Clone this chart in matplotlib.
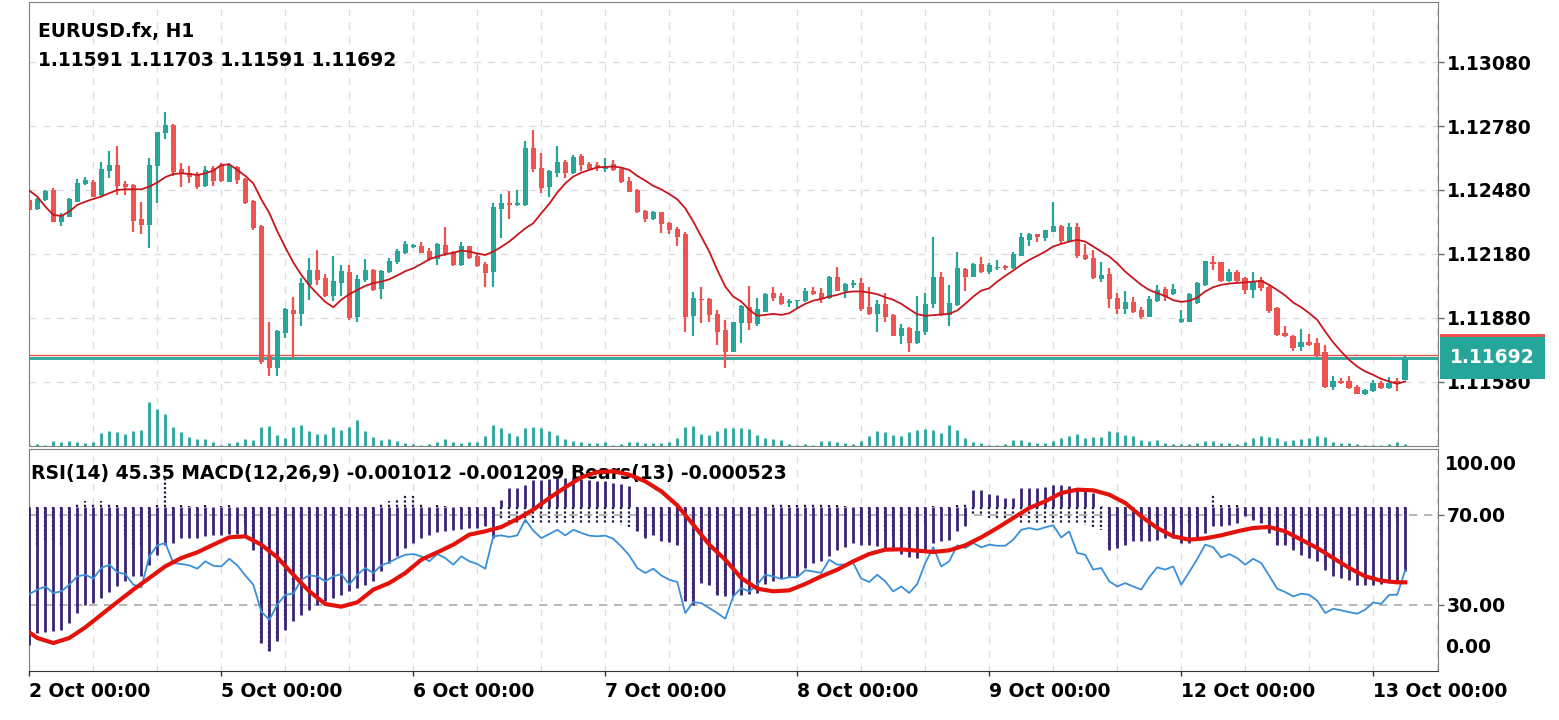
import numpy as np
import matplotlib.pyplot as plt
from matplotlib.patches import Rectangle

plt.rcParams['font.family'] = 'DejaVu Sans'
plt.rcParams['font.weight'] = 'bold'

# EURUSD.fx H1, 2 Oct 00:00 .. 13 Oct 04:00 (173 bars)
opens = [
    1.12433, 1.12390, 1.12433, 1.12480, 1.12332, 1.12355, 1.12425, 1.12508, 1.12519, 1.12457,
    1.12571, 1.12597, 1.12507, 1.12504, 1.12346, 1.12318, 1.12594, 1.12746, 1.12785, 1.12577,
    1.12558, 1.12555, 1.12499, 1.12582, 1.12597, 1.12519, 1.12590, 1.12532, 1.12429, 1.12311,
    1.11702, 1.11647, 1.11811, 1.11915, 1.11897, 1.12035, 1.12105, 1.12069, 1.11985, 1.12043,
    1.12097, 1.11886, 1.12058, 1.12105, 1.12015, 1.12094, 1.12140, 1.12186, 1.12213, 1.12219,
    1.12194, 1.12157, 1.12222, 1.12186, 1.12129, 1.12215, 1.12168, 1.12133, 1.12093, 1.12391,
    1.12418, 1.12408, 1.12410, 1.12675, 1.12582, 1.12493, 1.12561, 1.12611, 1.12558, 1.12640,
    1.12600, 1.12596, 1.12580, 1.12602, 1.12579, 1.12522, 1.12480, 1.12382, 1.12344, 1.12375,
    1.12324, 1.12296, 1.12272, 1.11890, 1.11969, 1.11968, 1.11899, 1.11821, 1.11722, 1.11855,
    1.11933, 1.11852, 1.11910, 1.11996, 1.11983, 1.11952, 1.11957, 1.11957, 1.12008, 1.11999,
    1.11972, 1.12071, 1.12007, 1.12035, 1.12046, 1.11933, 1.11897, 1.11946, 1.11894, 1.11797,
    1.11832, 1.11761, 1.11813, 1.11944, 1.12074, 1.11894, 1.11941, 1.12110, 1.12074, 1.12132,
    1.12093, 1.12113, 1.12124, 1.12113, 1.12172, 1.12246, 1.12272, 1.12254, 1.12285, 1.12311,
    1.12243, 1.12308, 1.12175, 1.12160, 1.12063, 1.12086, 1.11972, 1.11922, 1.11954, 1.11915,
    1.11886, 1.11957, 1.12016, 1.11991, 1.11860, 1.11863, 1.11949, 1.12032, 1.12144, 1.12140,
    1.12055, 1.12093, 1.12066, 1.12011, 1.12058, 1.12027, 1.11925, 1.11808, 1.11796, 1.11743,
    1.11765, 1.11761, 1.11719, 1.11555, 1.11585, 1.11582, 1.11558, 1.11524, 1.11535, 1.11577,
    1.11550, 1.11582, 1.11591]
highs = [
    1.12449, 1.12441, 1.12480, 1.12488, 1.12371, 1.12441, 1.12530, 1.12543, 1.12527, 1.12610,
    1.12663, 1.12686, 1.12522, 1.12508, 1.12422, 1.12629, 1.12754, 1.12847, 1.12788, 1.12608,
    1.12593, 1.12566, 1.12594, 1.12593, 1.12608, 1.12605, 1.12594, 1.12535, 1.12433, 1.12316,
    1.11860, 1.11824, 1.11925, 1.11977, 1.12069, 1.12163, 1.12199, 1.12085, 1.12168, 1.12129,
    1.12129, 1.12082, 1.12157, 1.12108, 1.12105, 1.12160, 1.12202, 1.12241, 1.12225, 1.12235,
    1.12207, 1.12229, 1.12308, 1.12196, 1.12238, 1.12219, 1.12179, 1.12144, 1.12418, 1.12461,
    1.12477, 1.12480, 1.12710, 1.12761, 1.12652, 1.12574, 1.12686, 1.12621, 1.12644, 1.12649,
    1.12613, 1.12611, 1.12629, 1.12621, 1.12582, 1.12540, 1.12483, 1.12386, 1.12382, 1.12379,
    1.12332, 1.12308, 1.12282, 1.12000, 1.12027, 1.11972, 1.11915, 1.11871, 1.11863, 1.11941,
    1.12030, 1.11972, 1.11996, 1.12024, 1.11999, 1.11968, 1.11966, 1.12019, 1.12024, 1.12019,
    1.12077, 1.12118, 1.12046, 1.12058, 1.12066, 1.12027, 1.11965, 1.11996, 1.11897, 1.11852,
    1.11835, 1.11983, 1.11996, 1.12261, 1.12093, 1.12032, 1.12188, 1.12113, 1.12136, 1.12165,
    1.12136, 1.12152, 1.12127, 1.12191, 1.12277, 1.12280, 1.12274, 1.12293, 1.12425, 1.12315,
    1.12324, 1.12324, 1.12227, 1.12199, 1.12141, 1.12113, 1.11999, 1.12004, 1.11980, 1.11930,
    1.11983, 1.12035, 1.12027, 1.12040, 1.11918, 1.11996, 1.12050, 1.12149, 1.12168, 1.12144,
    1.12110, 1.12105, 1.12074, 1.12097, 1.12071, 1.12032, 1.11933, 1.11843, 1.11799, 1.11827,
    1.11804, 1.11785, 1.11754, 1.11608, 1.11597, 1.11608, 1.11566, 1.11546, 1.11590, 1.11582,
    1.11602, 1.11600, 1.11703]
lows = [
    1.12371, 1.12386, 1.12430, 1.12329, 1.12311, 1.12352, 1.12422, 1.12505, 1.12446, 1.12452,
    1.12535, 1.12457, 1.12457, 1.12282, 1.12272, 1.12207, 1.12421, 1.12718, 1.12546, 1.12496,
    1.12511, 1.12483, 1.12493, 1.12499, 1.12519, 1.12516, 1.12507, 1.12413, 1.12290, 1.11665,
    1.11608, 1.11608, 1.11788, 1.11694, 1.11840, 1.11965, 1.12035, 1.11980, 1.11957, 1.11985,
    1.11871, 1.11863, 1.12050, 1.12004, 1.11969, 1.12090, 1.12133, 1.12180, 1.12207, 1.12183,
    1.12149, 1.12129, 1.12172, 1.12124, 1.12124, 1.12157, 1.12121, 1.12027, 1.12027, 1.12257,
    1.12343, 1.12405, 1.12405, 1.12566, 1.12468, 1.12446, 1.12543, 1.12538, 1.12555, 1.12569,
    1.12574, 1.12569, 1.12563, 1.12571, 1.12515, 1.12469, 1.12374, 1.12332, 1.12340, 1.12280,
    1.12274, 1.12215, 1.11816, 1.11793, 1.11855, 1.11863, 1.11754, 1.11644, 1.11719, 1.11761,
    1.11821, 1.11840, 1.11907, 1.11960, 1.11941, 1.11933, 1.11925, 1.11954, 1.11988, 1.11949,
    1.11969, 1.12004, 1.11975, 1.12019, 1.11913, 1.11894, 1.11816, 1.11860, 1.11797, 1.11757,
    1.11719, 1.11758, 1.11800, 1.11925, 1.11890, 1.11844, 1.11938, 1.12008, 1.12071, 1.12090,
    1.12086, 1.12105, 1.12105, 1.12110, 1.12168, 1.12219, 1.12238, 1.12243, 1.12282, 1.12225,
    1.12238, 1.12160, 1.12152, 1.12063, 1.12050, 1.11925, 1.11899, 1.11899, 1.11902, 1.11874,
    1.11883, 1.11954, 1.11957, 1.11988, 1.11858, 1.11860, 1.11946, 1.12030, 1.12105, 1.12050,
    1.12050, 1.12050, 1.11991, 1.11975, 1.12004, 1.11902, 1.11797, 1.11790, 1.11727, 1.11727,
    1.11746, 1.11696, 1.11550, 1.11540, 1.11571, 1.11547, 1.11521, 1.11518, 1.11532, 1.11547,
    1.11547, 1.11535, 1.11591]
closes = [
    1.12386, 1.12436, 1.12477, 1.12332, 1.12363, 1.12436, 1.12515, 1.12527, 1.12449, 1.12579,
    1.12597, 1.12499, 1.12496, 1.12336, 1.12318, 1.12597, 1.12750, 1.12785, 1.12566, 1.12555,
    1.12540, 1.12496, 1.12574, 1.12522, 1.12522, 1.12597, 1.12527, 1.12418, 1.12300, 1.11675,
    1.11647, 1.11819, 1.11921, 1.11897, 1.12046, 1.12105, 1.12058, 1.11985, 1.12054, 1.12100,
    1.11879, 1.12063, 1.12105, 1.12011, 1.12100, 1.12149, 1.12196, 1.12225, 1.12221, 1.12186,
    1.12155, 1.12225, 1.12179, 1.12129, 1.12219, 1.12160, 1.12124, 1.12090, 1.12402, 1.12418,
    1.12410, 1.12418, 1.12675, 1.12577, 1.12488, 1.12571, 1.12611, 1.12558, 1.12636, 1.12597,
    1.12579, 1.12582, 1.12593, 1.12574, 1.12518, 1.12472, 1.12375, 1.12344, 1.12375, 1.12321,
    1.12290, 1.12261, 1.11886, 1.11972, 1.11965, 1.11894, 1.11813, 1.11722, 1.11860, 1.11936,
    1.11855, 1.11921, 1.11991, 1.11975, 1.11946, 1.11960, 1.11963, 1.12008, 1.11991, 1.11969,
    1.12074, 1.12007, 1.12040, 1.12046, 1.11921, 1.11897, 1.11944, 1.11886, 1.11797, 1.11832,
    1.11761, 1.11819, 1.11946, 1.12074, 1.11897, 1.11949, 1.12113, 1.12074, 1.12132, 1.12093,
    1.12129, 1.12121, 1.12113, 1.12180, 1.12258, 1.12274, 1.12258, 1.12290, 1.12311, 1.12243,
    1.12308, 1.12168, 1.12155, 1.12066, 1.12082, 1.11968, 1.11922, 1.11954, 1.11907, 1.11883,
    1.11968, 1.12011, 1.11980, 1.12015, 1.11875, 1.11991, 1.12043, 1.12147, 1.12132, 1.12055,
    1.12093, 1.12055, 1.12011, 1.12050, 1.12019, 1.11913, 1.11800, 1.11793, 1.11738, 1.11765,
    1.11754, 1.11707, 1.11554, 1.11586, 1.11574, 1.11550, 1.11524, 1.11540, 1.11574, 1.11550,
    1.11577, 1.11571, 1.11692]
ma_line = [
    1.12477, 1.12449, 1.12402, 1.12363, 1.12358, 1.12379, 1.12410, 1.12425, 1.12438, 1.12449,
    1.12465, 1.12480, 1.12483, 1.12483, 1.12483, 1.12496, 1.12515, 1.12540, 1.12555, 1.12558,
    1.12555, 1.12550, 1.12558, 1.12571, 1.12597, 1.12600, 1.12574, 1.12546, 1.12511, 1.12436,
    1.12372, 1.12286, 1.12211, 1.12140, 1.12082, 1.12033, 1.11993, 1.11955, 1.11930, 1.11965,
    1.11991, 1.12011, 1.12030, 1.12043, 1.12050, 1.12061, 1.12079, 1.12099, 1.12113, 1.12133,
    1.12155, 1.12168, 1.12179, 1.12185, 1.12196, 1.12191, 1.12182, 1.12175, 1.12191, 1.12213,
    1.12238, 1.12269, 1.12300, 1.12324, 1.12371, 1.12415, 1.12468, 1.12511, 1.12543, 1.12561,
    1.12574, 1.12586, 1.12588, 1.12590, 1.12585, 1.12574, 1.12546, 1.12524, 1.12499, 1.12483,
    1.12461, 1.12436, 1.12394, 1.12332, 1.12261, 1.12191, 1.12105, 1.12027, 1.11980, 1.11957,
    1.11918, 1.11890, 1.11894, 1.11899, 1.11894, 1.11902, 1.11925, 1.11946, 1.11961, 1.11969,
    1.11980, 1.11988, 1.12000, 1.12004, 1.12004, 1.11999, 1.11991, 1.11977, 1.11965, 1.11946,
    1.11921, 1.11897, 1.11890, 1.11893, 1.11896, 1.11899, 1.11915, 1.11946, 1.11980, 1.12008,
    1.12019, 1.12050, 1.12077, 1.12102, 1.12129, 1.12152, 1.12171, 1.12191, 1.12215, 1.12227,
    1.12238, 1.12246, 1.12238, 1.12215, 1.12191, 1.12168, 1.12136, 1.12097, 1.12066, 1.12035,
    1.12011, 1.11996, 1.11983, 1.11963, 1.11955, 1.11960, 1.11975, 1.12004, 1.12024, 1.12035,
    1.12041, 1.12044, 1.12047, 1.12050, 1.12054, 1.12035, 1.12011, 1.11985, 1.11952, 1.11930,
    1.11902, 1.11871, 1.11816, 1.11765, 1.11722, 1.11683, 1.11652, 1.11629, 1.11613, 1.11594,
    1.11582, 1.11571, 1.11582]
volumes = [
    4, 6, 3, 16, 13, 16, 13, 10, 13, 40, 45, 43, 36, 45, 48, 133, 111, 96, 58, 43,
    26, 21, 21, 13, 3, 10, 13, 21, 18, 56, 60, 33, 23, 56, 63, 45, 36, 36, 56, 48,
    58, 78, 45, 26, 18, 21, 16, 10, 6, 3, 6, 13, 21, 13, 10, 13, 13, 30, 63, 53,
    38, 30, 53, 56, 53, 45, 33, 21, 16, 11, 10, 10, 13, 3, 6, 13, 13, 10, 8, 10,
    13, 23, 56, 60, 36, 33, 45, 53, 53, 53, 50, 33, 25, 21, 18, 6, 3, 5, 3, 16,
    15, 13, 8, 6, 16, 30, 45, 43, 33, 30, 43, 48, 51, 48, 40, 63, 48, 25, 13, 10,
    3, 3, 6, 18, 18, 13, 10, 8, 16, 25, 30, 36, 25, 28, 28, 45, 41, 33, 30, 18,
    16, 18, 10, 6, 5, 5, 8, 15, 15, 10, 8, 6, 13, 23, 30, 26, 23, 16, 18, 20,
    23, 30, 26, 13, 8, 8, 5, 3, 3, 3, 6, 13, 6]
rsi = [
    34.7, 36.7, 38.1, 35.2, 35.9, 38.9, 42.6, 43.3, 41.6, 46.3,
    47.8, 44.4, 43.6, 38.9, 37.7, 51.5, 56.4, 57.4, 48.5, 48.1,
    47.5, 46.0, 49.3, 47.3, 47.0, 50.4, 47.5, 43.0, 38.9, 27.0,
    23.3, 30.0, 34.4, 34.9, 41.1, 43.0, 42.6, 40.4, 42.6, 43.6,
    38.9, 43.3, 46.3, 44.1, 47.5, 48.8, 50.7, 52.2, 52.5, 51.5,
    49.3, 52.5, 50.7, 47.8, 51.5, 49.3, 48.1, 46.0, 60.4, 60.8,
    60.1, 60.8, 67.8, 62.9, 59.6, 61.4, 63.3, 60.8, 63.3, 61.9,
    60.7, 60.4, 60.7, 59.3, 55.9, 51.9, 46.3, 44.1, 46.0, 43.0,
    41.1, 40.1, 26.3, 31.2, 30.7, 28.5, 26.3, 23.8, 33.7, 37.4,
    35.9, 38.9, 43.3, 42.6, 41.4, 42.2, 42.2, 45.3, 44.8, 44.1,
    50.0, 47.8, 47.8, 48.5, 41.6, 40.1, 43.3, 40.4, 35.9, 38.1,
    35.2, 39.2, 48.5, 55.6, 47.0, 49.3, 56.4, 55.2, 57.4, 55.5,
    56.7, 56.2, 56.2, 58.9, 63.3, 64.1, 63.3, 64.4, 65.3, 59.9,
    62.6, 53.0, 52.2, 45.6, 46.3, 40.4, 38.1, 39.6, 38.1, 36.7,
    42.2, 46.6, 45.6, 47.0, 38.9, 44.5, 50.3, 56.7, 55.5, 51.0,
    52.5, 50.7, 47.8, 50.4, 48.5, 42.9, 37.1, 35.6, 33.7, 34.9,
    34.4, 31.8, 26.3, 28.2, 27.5, 26.7, 26.0, 27.8, 31.0, 30.4,
    34.4, 34.4, 45.35]
# MACD main (histogram), millionths
macd_hist = np.array([
    -2060, -1885, -1875, -1860, -1835, -1735, -1585, -1460, -1435, -1360,
    -1270, -1185, -1110, -1035, -1035, -860, -710, -560, -535, -460,
    -460, -460, -435, -420, -420, -400, -400, -410, -635, -2035,
    -2160, -2010, -1835, -1710, -1610, -1535, -1460, -1410, -1360, -1310,
    -1260, -1210, -1160, -1110, -950, -835, -735, -610, -535, -460,
    -420, -370, -350, -335, -320, -310, -310, -285, -460, 115,
    290, 290, 340, 415, 415, 430, 440, 440, 440, 430,
    415, 390, 390, 365, 350, 315, -360, -460, -420, -500,
    -520, -570, -1410, -1460, -1135, -1160, -1310, -1335, -1335, -1310,
    -1300, -1285, -1150, -1110, -1060, -1050, -1035, -910, -835, -800,
    -735, -635, -600, -535, -560, -560, -585, -610, -635, -700,
    -750, -760, -660, -535, -510, -485, -360, -285, 265, 265,
    200, 190, 140, 140, 290, 290, 290, 300, 330, 330,
    315, 265, 240, 215, 15, -635, -610, -560, -510, -500,
    -510, -485, -460, -460, -535, -535, -485, -385, -285, -285,
    -260, -235, -135, -185, -235, -385, -560, -560, -635, -710,
    -760, -810, -935, -1035, -1060, -1085, -1160, -1170, -1160, -1150,
    -1135, -1135, -960]) * 1e-6
# MACD signal, read every second bar
signal_bars = [0, 1] + list(range(3, 172, 2)) + [172]
macd_signal = np.array([
    -1875, -1960, -2035, -1960, -1800, -1610, -1420, -1235, -1060, -885,
    -760, -675, -560, -450, -435, -560, -750, -1010, -1260, -1450,
    -1490, -1425, -1235, -1135, -985, -785, -675, -560, -410, -360,
    -295, -175, -35, 140, 300, 450, 530, 540, 490, 390,
    240, 30, -260, -560, -785, -1060, -1220, -1260, -1245, -1150,
    -1035, -935, -810, -700, -635, -630, -650, -670, -645, -570,
    -450, -310, -160, -10, 90, 215, 265, 255, 190, 65,
    -135, -310, -435, -485, -465, -420, -360, -310, -295, -360,
    -485, -610, -760, -910, -1035, -1100, -1125, -1125]) * 1e-6
# Bears Power(13), millionths
bears = np.array([
    -2440, -2240, -2040, -2040, -2240, -1640, 260, 360, 200, 360,
    260, 160, -1640, -2440, -2240, -1240, 120, 1860, -440, 120,
    60, -40, 120, 40, 80, 120, 0, -1040, -2040, -8140,
    -8640, -8040, -6840, -5240, -4440, -3440, -3040, -3040, -2440, -2640,
    -2440, -2040, -1640, -1440, 260, 400, 560, 760, 760, 260,
    0, 120, 60, 0, -40, -440, -540, -740, -1040, -740,
    -840, -940, -940, -940, -940, -940, -940, -940, -940, -940,
    -940, -940, -940, -940, -1040, -1240, -1440, -1840, -1680, -2000,
    -2080, -2280, -5640, -5840, -4540, -4640, -5240, -5340, -5340, -3440,
    -3040, -2440, -440, 260, 200, 120, 160, 200, 260, 200,
    160, 120, 60, 40, -1240, -1640, -1440, -1440, -1840, -2040,
    -2240, -1840, -1040, 60, -80, -40, 160, 260, -440, -540,
    -640, -640, -740, -740, -940, -940, -940, -940, -940, -940,
    -940, -940, -1040, -1240, -1340, -2440, -2240, -2040, -1840, -1640,
    -1440, -1240, -1140, -1040, -1040, -940, -840, -240, 760, 160,
    120, 120, -540, -740, -940, -1440, -2240, -2240, -2440, -2440,
    -2440, -2640, -3240, -3240, -3040, -2840, -2640, -2440, -2040, -1640,
    -1240, -840, -520]) * 1e-6

date_bars = [0, 24, 48, 72, 96, 120, 144, 168]
date_labels = ['2 Oct 00:00', '5 Oct 00:00', '6 Oct 00:00', '7 Oct 00:00',
               '8 Oct 00:00', '9 Oct 00:00', '12 Oct 00:00', '13 Oct 00:00']
price_ticks = [1.13080, 1.12780, 1.12480, 1.12180, 1.11880, 1.11580]
bid, ask = 1.11692, 1.11705
rsi_levels = [70, 30]

BULL = '#26a69a'
BEAR = '#ef5350'
GRID = '#dddddd'
FS = 13.5

W, H = 1559, 720
fig = plt.figure(figsize=(W / 100, H / 100), dpi=100)


def box(l, t, r, b):
    return [l / W, 1 - b / H, (r - l) / W, (b - t) / H]


ax = fig.add_axes(box(29, 2, 1438, 446))
axi = fig.add_axes(box(29, 449, 1438, 671))
axb = axi.twinx()
axm = axi.twinx()
xlim = (-0.04, 176.1)

# --- price panel ---
x = np.arange(len(closes))
o, h, l, c = (np.array(a) for a in (opens, highs, lows, closes))
col = np.where(c >= o, BULL, BEAR)
ax.vlines(x, l, h, colors=col, lw=1.6, zorder=3)
body = np.abs(c - o)
min_body = 0.00003
bottom = np.minimum(o, c) - np.clip(min_body - body, 0, None) / 2
ax.bar(x, np.maximum(body, min_body), bottom=bottom, width=0.68, color=col, lw=0, zorder=4)
ax.plot(x, ma_line, color='#c8161d', lw=1.3, zorder=5)
ax.axhline(ask, color=BEAR, lw=1.0, zorder=2)
ax.axhline(bid, color=BULL, lw=2.0, zorder=2)
ax.vlines(x, 0, np.array(volumes) / 1332, transform=ax.get_xaxis_transform(),
          colors=BULL, lw=2, zorder=2)
ax.set_xlim(*xlim)
ax.set_ylim(1.112792, 1.133616)
ax.set_xticks(np.arange(0, 177, 8))
ax.set_yticks(price_ticks)
ax.set_yticklabels([f'{p:.5f}' for p in price_ticks])
ax.yaxis.tick_right()
ax.tick_params(axis='x', length=0, labelbottom=False)
ax.tick_params(axis='y', length=4.3, width=1, color='#666666', pad=2.2, labelsize=FS)
ax.grid(True, color=GRID, ls=(0, (5, 5)), lw=1)

# --- indicator panel ---
axi.set_xlim(*xlim)
axi.set_ylim(0.53, 99.2)
axi.set_xticks(date_bars)
axi.set_xticklabels(date_labels, ha='left')
axi.set_xticks(np.arange(0, 177, 8), minor=True)
axi.tick_params(axis='x', which='major', length=3.6, width=1, color='#333333', pad=4.2, labelsize=FS)
axi.tick_params(axis='x', which='minor', length=0)
axi.grid(True, axis='x', which='both', color=GRID, ls=(0, (5, 5)), lw=1)
axi.yaxis.tick_right()
axi.set_yticks(rsi_levels)
axi.set_yticklabels([f'{v:.2f}' for v in rsi_levels])
axi.tick_params(axis='y', length=4.3, width=1, color='#666666', pad=2.2, labelsize=FS)
for lv in rsi_levels:
    axi.axhline(lv, color='#aaaaaa', ls=(0, (5, 4)), lw=1.2, zorder=1)
for v, s in ((92.1, '100.00'), (10.8, '0.00')):
    axi.annotate(s, xy=(1, v), xycoords=('axes fraction', 'data'), xytext=(5.3, 0),
                 textcoords='offset points', va='center', ha='left', fontsize=FS,
                 annotation_clip=False)

axb.text(31 / W, 1 - 474 / H, 'RSI(14) 45.35 MACD(12,26,9) -0.001012 -0.001209 Bears(13) -0.000523',
         transform=fig.transFigure, fontsize=FS, va='center', ha='left', zorder=1)
axb.vlines(x, 0, bears, colors='#1f1a4d', lw=1.6, linestyles=(0, (1, 1)), zorder=2)
axb.set_xlim(*xlim)
axb.set_ylim(-0.00982, 0.0035)
axb.axis('off')

axm.vlines(x, 0, macd_hist, colors='#3a2470', lw=2, zorder=2)
axm.plot(x, rsi, transform=axi.transData, color='#3b8fd9', lw=1.3, zorder=3)
axm.plot(signal_bars, macd_signal, color='#e3120b', lw=3, zorder=4)
axm.set_xlim(*xlim)
axm.set_ylim(-0.002455, 0.000875)
axm.axis('off')

for a in (ax, axi):
    for s in a.spines.values():
        s.set_color('#808080')
axi.spines['bottom'].set_color('#333333')

# --- header ---
fig.text(38 / W, 1 - 31.5 / H, 'EURUSD.fx, H1', fontsize=FS, va='center', ha='left')
fig.text(38 / W, 1 - 60 / H, '1.11591 1.11703 1.11591 1.11692', fontsize=FS, va='center', ha='left')

# --- price labels on the right ---
to_fig = fig.transFigure.inverted()
for price, colr, z in ((ask, BEAR, 20), (bid, BULL, 21)):
    yf = to_fig.transform(ax.transData.transform((0, price)))[1]
    fig.add_artist(Rectangle((1440 / W, yf - 21 / H), 105 / W, 42 / H,
                             transform=fig.transFigure, facecolor=colr, edgecolor='none', zorder=z))
yf = to_fig.transform(ax.transData.transform((0, bid)))[1]
fig.text(1492 / W, yf, f'{bid:.5f}', color='white', fontsize=FS, ha='center', va='center', zorder=22)

fig.savefig('out.png', dpi=100)
